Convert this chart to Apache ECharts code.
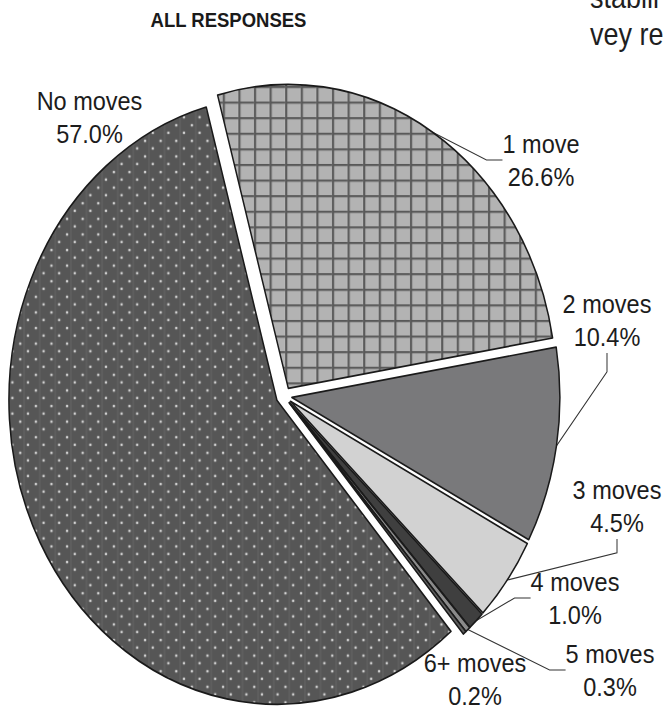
<!DOCTYPE html>
<html>
<head>
<meta charset="utf-8">
<script src="https://cdn.jsdelivr.net/npm/echarts@6/dist/echarts.min.js"></script>
<style>
  html, body { margin: 0; padding: 0; background: #fff; overflow: hidden; }
  #wrap { width: 665px; height: 709px; position: relative; overflow: hidden; }
  #chart { width: 665px; height: 625px; position: absolute; left: 0; top: 0; transform: scaleY(1.1344); transform-origin: 0 0; }
</style>
</head>
<body>
<div id="wrap"><div id="chart"></div></div>
<script>
// ---- data ----
const categories = ['1 move', '2 moves', '3 moves', '4 moves', '5 moves', '6+ moves', 'No moves'];
const values = [26.6, 10.4, 4.5, 1.0, 0.3, 0.2, 57.0];
const titleText = 'ALL RESPONSES';
const bodyTextLines = ['stabili', 'vey re'];

// ---- layout / style ----
const S = 709 / 625;          // vertical stretch of the whole picture
const CX = 284, CY = 396 / S, R = 268, OFF = 8;
const FONT = '"Liberation Sans", Arial, Helvetica, sans-serif';

// label centres in picture coordinates and leader routes
const labelPlace = [
  { x: 541, y: 160, route: 'left', len: 16 },
  { x: 607, y: 320, route: 'bottom', len: 19 },
  { x: 617, y: 506, route: 'bottom', len: 14 },
  { x: 575, y: 598, route: 'left', len: 16 },
  { x: 610, y: 670, route: 'left', len: 16 },
  { x: 475, y: 679, route: null },
  { x: 89.5, y: 117, route: null }
];

function makePattern(kind) {
  const k = 4;
  const cw = 15.6, ch = 15.6 / S;
  const c = document.createElement('canvas');
  c.width = Math.round(cw * k); c.height = Math.round(ch * k);
  const g = c.getContext('2d');
  if (kind === 'grid') {
    g.fillStyle = '#b3b3b3'; g.fillRect(0, 0, c.width, c.height);
    g.fillStyle = '#575757';
    g.fillRect(0, 0, 2.2 * k, c.height);
    g.fillRect(0, 0, c.width, 2.0 * k);
  } else {
    g.fillStyle = '#565656'; g.fillRect(0, 0, c.width, c.height);
    g.fillStyle = '#e2e2e2';
    const pts = [[0.25, 0.25], [0.75, 0.75]];
    pts.forEach(p => {
      g.beginPath();
      g.ellipse(p[0] * c.width, p[1] * c.height, 1.25 * k, 1.25 * k / S, 0, 0, Math.PI * 2);
      g.fill();
    });
  }
  return { image: c, repeat: 'repeat', imageWidth: cw, imageHeight: ch };
}

const fills = [
  makePattern('grid'), '#79797b', '#d2d2d2', '#3f3f3f', '#8a8a8a', '#5e5e5e', makePattern('dots')
];

const data = categories.map((name, i) => ({
  name: name,
  value: values[i],
  selected: true,
  itemStyle: { color: fills[i] },
  labelLine: { show: true, lineStyle: { opacity: labelPlace[i].route ? 1 : 0 } }
}));

const chart = echarts.init(document.getElementById('chart'), null, { renderer: 'svg' });
chart.setOption({
  animation: false,
  backgroundColor: '#ffffff',
  graphic: [
    { type: 'text', x: 228.5, y: 23.5 - 0.3465 * 18.5, style: { text: titleText, font: 'bold 18.5px ' + FONT, fill: '#1a1a1a', align: 'center', verticalAlign: 'middle' } },
    { type: 'text', x: 590, y: 8 / S - 0.3465 * 27, style: { text: bodyTextLines[0], font: '27px ' + FONT, fill: '#1f1f1f', align: 'left', verticalAlign: 'middle' } },
    { type: 'text', x: 590, y: 45 / S - 0.3465 * 27, style: { text: bodyTextLines[1], font: '27px ' + FONT, fill: '#1f1f1f', align: 'left', verticalAlign: 'middle' } }
  ],
  series: [{
    type: 'pie',
    center: [CX, CY],
    radius: R,
    startAngle: 105.3,
    clockwise: true,
    selectedMode: 'multiple',
    selectedOffset: OFF,
    avoidLabelOverlap: false,
    itemStyle: { borderColor: '#1a1a1a', borderWidth: 1.5 },
    select: { itemStyle: { borderColor: '#1a1a1a', borderWidth: 1.5 } },
    emphasis: { disabled: true },
    label: {
      show: true,
      position: 'outside',
      fontFamily: FONT,
      fontSize: 23.5,
      lineHeight: 29,
      color: '#1c1c1c',
      formatter: p => p.name + '\n' + p.value.toFixed(1) + '%'
    },
    labelLine: { show: true, length: 10, length2: 10, smooth: false, lineStyle: { color: '#333', width: 1 } },
    labelLayout: function (params) {
      const i = params.dataIndex;
      const p = labelPlace[i];
      const x = p.x, y = p.y / S;
      const r = params.labelRect;
      const w = r.width, h = r.height;
      let ox = 0, oy = 0, a = null;
      if (params.labelLinePoints) {
        a = params.labelLinePoints[0];
        const ddx = a[0] - CX, ddy = a[1] - CY;
        const L = Math.hypot(ddx, ddy) || 1;
        ox = OFF * ddx / L; oy = OFF * ddy / L;
      }
      const ax = params.align === 'right' ? r.x + w : (params.align === 'center' ? r.x + w / 2 : r.x);
      const ay = params.verticalAlign === 'bottom' ? r.y + h : (params.verticalAlign === 'top' ? r.y : r.y + h / 2);
      const res = { dx: x - ax - ox, dy: y - ay - oy, align: 'center', verticalAlign: 'middle' };
      if (p.route && a) {
        let p0, p1;
        if (p.route === 'left') {
          p0 = [x - w / 2, y];
          p1 = [p0[0] - p.len, y];
        } else {
          p0 = [x, y + h / 2];
          p1 = [x, p0[1] + p.len / S];
        }
        res.labelLinePoints = [[a[0], a[1]], [p1[0] - ox, p1[1] - oy], [p0[0] - ox, p0[1] - oy]];
      }
      return res;
    },
    data: data
  }]
});
</script>
</body>
</html>
